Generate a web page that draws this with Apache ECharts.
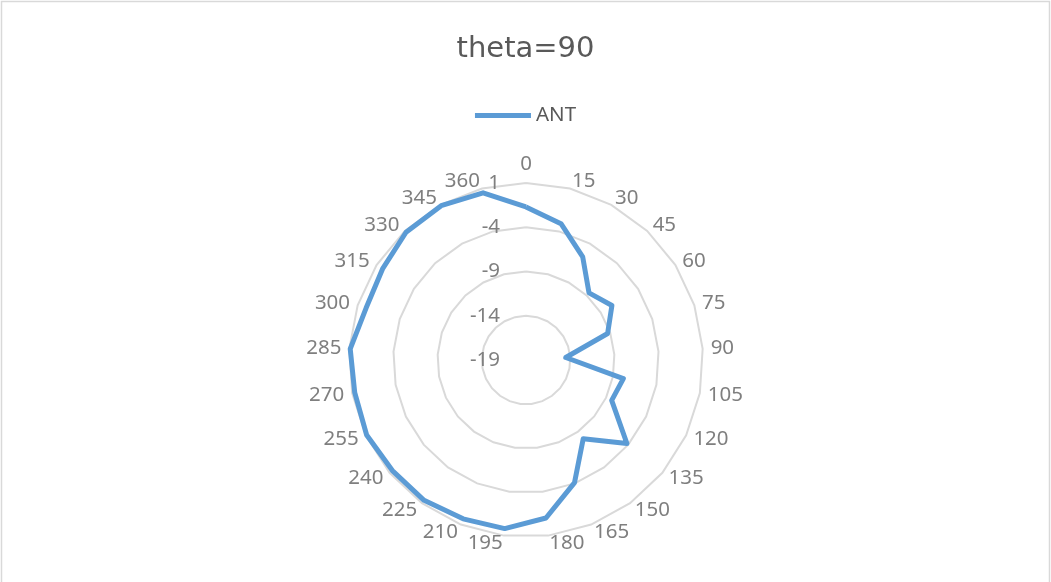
<!DOCTYPE html>
<html>
<head>
<meta charset="utf-8">
<script src="https://cdn.jsdelivr.net/npm/echarts@6/dist/echarts.min.js"></script>
<style>
html,body{margin:0;padding:0;background:#fff;}
#c{width:1051px;height:582px;}
</style>
</head>
<body>
<div id="c"></div>
<script>
// Categories (degrees), clockwise from top
const categories = ['0','15','30','45','60','75','90','105','120','135','150','165','180','195','210','225','240','255','270','285','300','315','330','345','360'];
// Series values
const antValues = [-1.7,-3.1,-5.7,-8.6,-7.5,-9.3,-14.5,-7.8,-8.3,-4.2,-8.0,-4.1,-1.0,0.2,0.3,0.6,0.6,0.9,0.7,0.9,0.0,0.2,0.8,0.9,0.5];
// Radial tick labels
const radialTicks = [-19,-14,-9,-4,1];

const FONT = 'Noto Sans';
const rMin = radialTicks[0], rMax = radialTicks[radialTicks.length-1];

// ECharts radar goes counter-clockwise; reorder so it appears clockwise like the source
const order = [0];
for (let i = categories.length - 1; i >= 1; i--) order.push(i);

const indicator = order.map((idx, k) => ({
  name: categories[idx],
  min: rMin,
  max: rMax,
  axisLabel: k === 0 ? {
    show: true, color: '#7f7f7f', fontSize: 20.5, fontFamily: FONT, margin: 26,
    showMinLabel: true, showMaxLabel: true
  } : { show: false }
}));
const dataOrdered = order.map(idx => antValues[idx]);

const chart = echarts.init(document.getElementById('c'), null, {renderer: 'canvas'});
chart.setOption({
  animation: false,
  backgroundColor: '#fff',
  title: {
    text: 'theta=90', left: 'center', top: 30,
    textStyle: {color: '#595959', fontSize: 29, fontWeight: 'normal', fontFamily: 'DejaVu Sans'}
  },
  legend: {
    data: ['ANT'], top: 100, left: 'center',
    itemWidth: 56, itemHeight: 5, itemGap: 4,
    icon: 'rect',
    textStyle: {color: '#595959', fontSize: 20.5, fontFamily: FONT}
  },
  graphic: [{
    type: 'rect', shape: {x: 1.5, y: 1.5, width: 1048, height: 600},
    style: {fill: 'none', stroke: '#d9d9d9', lineWidth: 1.5}, silent: true
  }],
  radar: {
    center: [526, 360],
    radius: 177,
    startAngle: 90,
    splitNumber: 4,
    shape: 'polygon',
    indicator: indicator,
    axisName: {color: '#7f7f7f', fontSize: 20.5, fontFamily: FONT},
    nameGap: 8,
    axisLine: {show: false},
    axisTick: {show: false},
    splitLine: {lineStyle: {color: '#d9d9d9', width: 2}},
    splitArea: {show: false}
  },
  series: [{
    name: 'ANT',
    type: 'radar',
    symbol: 'none',
    lineStyle: {color: '#5b9bd5', width: 5, join: 'round'},
    itemStyle: {color: '#5b9bd5'},
    data: [{value: dataOrdered, name: 'ANT'}]
  }]
});
</script>
</body>
</html>
